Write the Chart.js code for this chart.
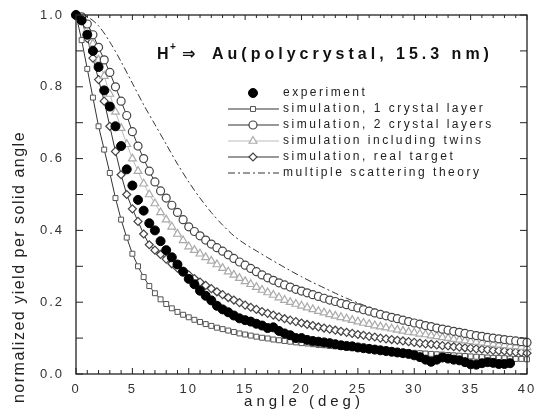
<!DOCTYPE html>
<html>
<head>
<meta charset="utf-8">
<script src="https://cdn.jsdelivr.net/npm/chart.js@4.4.0/dist/chart.umd.min.js"></script>
<style>
  html, body { margin: 0; padding: 0; background: #fff; }
  canvas { display: block; }
</style>
</head>
<body>
<canvas id="chart" width="536" height="410"></canvas>
<script>
// angles (deg) for the simulated / measured points, 0.5 deg apart
const angles = [
  0, 0.5, 1, 1.5, 2, 2.5, 3, 3.5, 4, 4.5,
  5, 5.5, 6, 6.5, 7, 7.5, 8, 8.5, 9, 9.5,
  10, 10.5, 11, 11.5, 12, 12.5, 13, 13.5, 14, 14.5,
  15, 15.5, 16, 16.5, 17, 17.5, 18, 18.5, 19, 19.5,
  20, 20.5, 21, 21.5, 22, 22.5, 23, 23.5, 24, 24.5,
  25, 25.5, 26, 26.5, 27, 27.5, 28, 28.5, 29, 29.5,
  30, 30.5, 31, 31.5, 32, 32.5, 33, 33.5, 34, 34.5,
  35, 35.5, 36, 36.5, 37, 37.5, 38, 38.5, 39, 39.5,
  40
];
const experiment = [
  1.0, 0.985, 0.945, 0.9, 0.855, 0.79, 0.745, 0.69, 0.635, 0.57,
  0.525, 0.485, 0.455, 0.42, 0.4, 0.37, 0.345, 0.325, 0.305, 0.285,
  0.265, 0.25, 0.232, 0.218, 0.205, 0.19, 0.18, 0.172, 0.163, 0.155,
  0.15, 0.146, 0.14, 0.135, 0.128, 0.13, 0.12, 0.113, 0.108, 0.1,
  0.1, 0.095, 0.092, 0.09, 0.088, 0.086, 0.083, 0.08, 0.078, 0.077,
  0.074, 0.072, 0.07, 0.068, 0.066, 0.064, 0.062, 0.06, 0.058, 0.056,
  0.052, 0.047, 0.04, 0.034, 0.04, 0.046, 0.043, 0.04, 0.038, 0.033,
  0.027, 0.026, 0.03, 0.033, 0.031, 0.028, 0.028, 0.03, null, null,
  null
];
const sim1Layer = [
  1.0, 0.93, 0.85, 0.77, 0.69, 0.625, 0.56, 0.49, 0.43, 0.38,
  0.335, 0.3, 0.27, 0.245, 0.225, 0.208, 0.195, 0.183, 0.173, 0.165,
  0.158, 0.151, 0.145, 0.139, 0.134, 0.129, 0.125, 0.121, 0.117, 0.113,
  0.11, 0.107, 0.104, 0.101, 0.099, 0.096, 0.094, 0.092, 0.09, 0.088,
  0.086, 0.085, 0.083, 0.081, 0.08, 0.078, 0.077, 0.075, 0.074, 0.072,
  0.071, 0.07, 0.068, 0.067, 0.066, 0.064, 0.063, 0.062, 0.061, 0.06,
  0.059, 0.058, 0.057, 0.056, 0.055, 0.054, 0.053, 0.052, 0.051, 0.05,
  0.049, 0.048, 0.047, 0.046, 0.045, 0.045, 0.044, 0.043, 0.042, 0.042,
  0.041
];
const sim2Layers = [
  1.0, 0.995, 0.975, 0.945, 0.91, 0.875, 0.84, 0.8, 0.76, 0.72,
  0.675, 0.635, 0.6, 0.565, 0.535, 0.51, 0.49, 0.47, 0.45, 0.43,
  0.41, 0.397, 0.385, 0.373, 0.362, 0.352, 0.342, 0.332, 0.322, 0.312,
  0.303, 0.294, 0.285, 0.276, 0.268, 0.261, 0.254, 0.248, 0.242, 0.236,
  0.231, 0.226, 0.221, 0.216, 0.211, 0.206, 0.202, 0.197, 0.193, 0.188,
  0.184, 0.179, 0.175, 0.17, 0.166, 0.162, 0.158, 0.154, 0.15, 0.146,
  0.142, 0.139, 0.135, 0.132, 0.128, 0.125, 0.122, 0.119, 0.116, 0.113,
  0.11, 0.107, 0.105, 0.102, 0.1, 0.098, 0.096, 0.094, 0.092, 0.09,
  0.088
];
const simTwins = [
  1.0, 0.99, 0.96, 0.92, 0.875, 0.83, 0.78, 0.73, 0.685, 0.64,
  0.6, 0.565, 0.53, 0.5, 0.475, 0.45, 0.43, 0.41, 0.39, 0.372,
  0.355, 0.345, 0.335, 0.325, 0.315, 0.305, 0.295, 0.285, 0.276, 0.267,
  0.258, 0.25, 0.242, 0.234, 0.227, 0.22, 0.213, 0.206, 0.2, 0.195,
  0.19, 0.185, 0.18, 0.175, 0.171, 0.166, 0.162, 0.158, 0.154, 0.15,
  0.146, 0.142, 0.139, 0.135, 0.132, 0.129, 0.126, 0.123, 0.12, 0.117,
  0.115, 0.112, 0.11, 0.107, 0.105, 0.102, 0.1, 0.097, 0.095, 0.093,
  0.091, 0.089, 0.087, 0.085, 0.083, 0.081, 0.08, 0.078, 0.077, 0.075,
  0.074
];
const simReal = [
  1.0, 0.985, 0.935, 0.88, 0.82, 0.76, 0.69, 0.62, 0.555, 0.5,
  0.46, 0.425, 0.39, 0.36, 0.345, 0.333, 0.32, 0.307, 0.295, 0.285,
  0.276, 0.266, 0.256, 0.247, 0.238, 0.229, 0.221, 0.213, 0.206, 0.199,
  0.192, 0.186, 0.18, 0.174, 0.169, 0.164, 0.159, 0.154, 0.15, 0.146,
  0.142, 0.138, 0.135, 0.131, 0.128, 0.125, 0.122, 0.119, 0.116, 0.113,
  0.11, 0.108, 0.105, 0.103, 0.1, 0.098, 0.096, 0.094, 0.092, 0.09,
  0.088, 0.086, 0.084, 0.083, 0.081, 0.079, 0.078, 0.076, 0.075, 0.073,
  0.072, 0.07, 0.069, 0.068, 0.066, 0.065, 0.064, 0.062, 0.061, 0.06,
  0.058
];
// multiple scattering theory curve, 1 deg apart
const theoryAngles = [
  0, 1, 2, 3, 4, 5, 6, 7, 8, 9,
  10, 11, 12, 13, 14, 15, 16, 17, 18, 19,
  20, 21, 22, 23, 24, 25, 26, 27, 28, 29,
  30, 31, 32, 33, 34, 35, 36, 37, 38, 39,
  40
];
const theory = [
  1.0, 0.995, 0.97, 0.925, 0.87, 0.81, 0.75, 0.695, 0.64, 0.585,
  0.535, 0.49, 0.45, 0.415, 0.385, 0.362, 0.343, 0.324, 0.306, 0.288,
  0.271, 0.255, 0.24, 0.225, 0.211, 0.198, 0.186, 0.175, 0.165, 0.156,
  0.148, 0.14, 0.133, 0.126, 0.12, 0.114, 0.109, 0.104, 0.1, 0.096,
  0.092
];
const seriesNames = [
  "experiment",
  "simulation, 1 crystal layer",
  "simulation, 2 crystal layers",
  "simulation including twins",
  "simulation, real target",
  "multiple scattering theory"
];

const FONT = "Arial, 'Liberation Sans', sans-serif";
const pts = (xs, ys) => xs.map((a, i) => ({ x: a, y: ys[i] })).filter(p => p.y !== null);

// legend drawn inside the plot, like the figure
const insideLegend = {
  id: "insideLegend",
  afterDraw(chart) {
    const ctx = chart.ctx;
    const rowY = [93, 109, 125, 141, 157, 173];
    chart.data.datasets.forEach((ds, i) => {
      const y = rowY[i];
      ctx.save();
      ctx.letterSpacing = "0px";
      if (ds.showLine !== false) {
        ctx.strokeStyle = ds.borderColor;
        ctx.lineWidth = ds.borderWidth;
        ctx.setLineDash(ds.borderDash || []);
        ctx.beginPath();
        ctx.moveTo(228, y);
        ctx.lineTo(279, y);
        ctx.stroke();
        ctx.setLineDash([]);
      }
      if (ds.pointRadius > 0) {
        ctx.fillStyle = ds.pointBackgroundColor;
        ctx.strokeStyle = ds.pointBorderColor;
        ctx.lineWidth = ds.pointBorderWidth;
        Chart.helpers.drawPoint(ctx, {
          pointStyle: ds.pointStyle, rotation: 0,
          radius: ds.pointRadius, borderWidth: ds.pointBorderWidth
        }, 253, y);
      }
      ctx.fillStyle = "#222";
      ctx.font = "12px " + FONT;
      ctx.letterSpacing = "2.5px";
      ctx.textBaseline = "middle";
      ctx.fillText(ds.label, 283, y);
      ctx.restore();
    });
  }
};

const texts = {
  id: "texts",
  beforeDraw(chart) {
    chart.ctx.letterSpacing = "2px";   // spaced tick labels
  },
  afterDraw(chart) {
    const ctx = chart.ctx;
    ctx.save();
    ctx.fillStyle = "#111";
    ctx.textBaseline = "alphabetic";
    ctx.letterSpacing = "0px";
    ctx.font = "bold 16px " + FONT;
    ctx.fillText("H", 157, 59);
    ctx.font = "bold 10px " + FONT;
    ctx.fillText("+", 170, 50);
    ctx.font = "bold 16px 'DejaVu Sans'";
    ctx.fillText("\u21D2", 182, 59);
    ctx.font = "bold 16px " + FONT;
    ctx.letterSpacing = "4px";
    ctx.fillText("Au(polycrystal, 15.3 nm)", 212, 59);

    // axis titles
    ctx.fillStyle = "#222";
    ctx.font = "15px " + FONT;
    ctx.letterSpacing = "4px";
    ctx.textAlign = "center";
    ctx.fillText("angle (deg)", 304, 406);
    ctx.translate(24, 267);
    ctx.rotate(-Math.PI / 2);
    ctx.font = "16px " + FONT;
    ctx.letterSpacing = "1.5px";
    ctx.fillText("normalized yield per solid angle", 0, 0);
    ctx.restore();
    ctx.letterSpacing = "0px";
  }
};

// box around the plot with inward ticks on all four sides
const frame = {
  id: "frame",
  afterDatasetsDraw(chart) {
    const { ctx, chartArea: a, scales: { x, y } } = chart;
    ctx.save();
    ctx.letterSpacing = "0px";
    ctx.strokeStyle = "#222";
    ctx.lineWidth = 1.3;
    ctx.strokeRect(a.left, a.top, a.right - a.left, a.bottom - a.top);
    ctx.lineWidth = 1;
    ctx.beginPath();
    for (let d = 0; d <= 40; d++) {
      const px = x.getPixelForValue(d);
      const len = d % 5 === 0 ? 6 : 4;
      ctx.moveTo(px, a.bottom); ctx.lineTo(px, a.bottom - len);
      ctx.moveTo(px, a.top); ctx.lineTo(px, a.top + len - 1);
    }
    for (let k = 0; k <= 10; k++) {
      const py = y.getPixelForValue(k / 10);
      ctx.moveTo(a.left, py); ctx.lineTo(a.left + 7, py);
      ctx.moveTo(a.right, py); ctx.lineTo(a.right - 7, py);
    }
    ctx.stroke();
    ctx.restore();
  }
};

const ctx = document.getElementById("chart").getContext("2d");
const chart = new Chart(ctx, {
  type: "line",
  data: {
    datasets: [
      {
        label: seriesNames[0],
        data: pts(angles, experiment),
        showLine: false,
        pointStyle: "circle",
        pointRadius: 4.5,
        pointBackgroundColor: "#000",
        pointBorderColor: "#000",
        pointBorderWidth: 1,
        borderColor: "#000",
        borderWidth: 1
      },
      {
        label: seriesNames[1],
        data: pts(angles, sim1Layer),
        pointStyle: "rect",
        pointRadius: 3.5,
        pointBackgroundColor: "#fff",
        pointBorderColor: "#555",
        pointBorderWidth: 1,
        borderColor: "#333",
        borderWidth: 1
      },
      {
        label: seriesNames[2],
        data: pts(angles, sim2Layers),
        pointStyle: "circle",
        pointRadius: 4,
        pointBackgroundColor: "#fff",
        pointBorderColor: "#444",
        pointBorderWidth: 1.2,
        borderColor: "#333",
        borderWidth: 1
      },
      {
        label: seriesNames[3],
        data: pts(angles, simTwins),
        pointStyle: "triangle",
        pointRadius: 4.5,
        pointBackgroundColor: "#fff",
        pointBorderColor: "#aaa",
        pointBorderWidth: 1.2,
        borderColor: "#bbb",
        borderWidth: 1
      },
      {
        label: seriesNames[4],
        data: pts(angles, simReal),
        pointStyle: "rectRot",
        pointRadius: 4,
        pointBackgroundColor: "#fff",
        pointBorderColor: "#444",
        pointBorderWidth: 1.2,
        borderColor: "#333",
        borderWidth: 1
      },
      {
        label: seriesNames[5],
        data: pts(theoryAngles, theory),
        pointRadius: 0,
        borderColor: "#333",
        borderWidth: 1,
        borderDash: [7, 3, 2, 3],
        tension: 0.3
      }
    ]
  },
  options: {
    responsive: false,
    animation: false,
    clip: false,
    layout: { padding: { top: 15, right: 9, left: 0, bottom: 0 } },
    plugins: { legend: { display: false }, tooltip: { enabled: false } },
    scales: {
      x: {
        type: "linear",
        min: 0,
        max: 40,
        grid: { display: false, drawTicks: false },
        border: { display: false },
        ticks: {
          stepSize: 5,
          color: "#333",
          font: { family: FONT, size: 13 },
          padding: 8,
          maxRotation: 0
        },
        afterFit(s) { s.height = 36; s.paddingLeft = 0; s.paddingRight = 0; }
      },
      y: {
        min: 0,
        max: 1,
        grid: { display: false, drawTicks: false },
        border: { display: false },
        ticks: {
          stepSize: 0.2,
          color: "#333",
          font: { family: FONT, size: 13 },
          padding: 12,
          callback: v => v.toFixed(1)
        },
        afterFit(s) { s.width = 76; s.paddingTop = 0; s.paddingBottom = 0; }
      }
    }
  },
  plugins: [texts, frame, insideLegend]
});
</script>
</body>
</html>
